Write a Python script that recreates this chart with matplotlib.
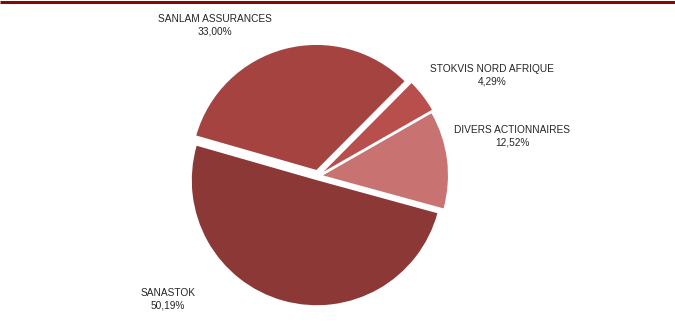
import matplotlib
matplotlib.use("Agg")
import matplotlib.pyplot as plt

labels = ["SANLAM ASSURANCES", "STOKVIS NORD AFRIQUE", "DIVERS ACTIONNAIRES", "SANASTOK"]
values = [33.00, 4.29, 12.52, 50.19]
value_labels = ["33,00%", "4,29%", "12,52%", "50,19%"]
colors = ["#A54341", "#B84F4C", "#C87271", "#8B3836"]

W, H = 675, 332
R = 125
# explode offsets expressed as fraction of the radius
explode_frac = [0.05, 0.055, 0.04, 0.035]

fig = plt.figure(figsize=(W / 100, H / 100), dpi=100)
ax = fig.add_axes([0, 0, 1, 1])

ax.pie(values, colors=colors, explode=[e * R for e in explode_frac],
       startangle=164, counterclock=False,
       center=(318, H - 176), radius=R, frame=True,
       wedgeprops=dict(linewidth=0))
ax.set_xlim(0, W)
ax.set_ylim(0, H)
ax.set_aspect("equal")
ax.axis("off")

# top rule
ax.plot([0, W], [H - 1.5, H - 1.5], color="#7F0A0A", linewidth=2.2, solid_capstyle="butt")

font = dict(family=["Liberation Sans Narrow", "Liberation Sans", "DejaVu Sans"], fontsize=7.3,
            color="#262626", ha="center", va="center", linespacing=1.3)
label_pos = [(215, H - 25), (492, H - 75), (512, H - 136), (168, H - 299)]
for (x, y), name, v in zip(label_pos, labels, value_labels):
    ax.text(x, y, f"{name}\n{v}", **font)

fig.savefig("out.png", dpi=100)
